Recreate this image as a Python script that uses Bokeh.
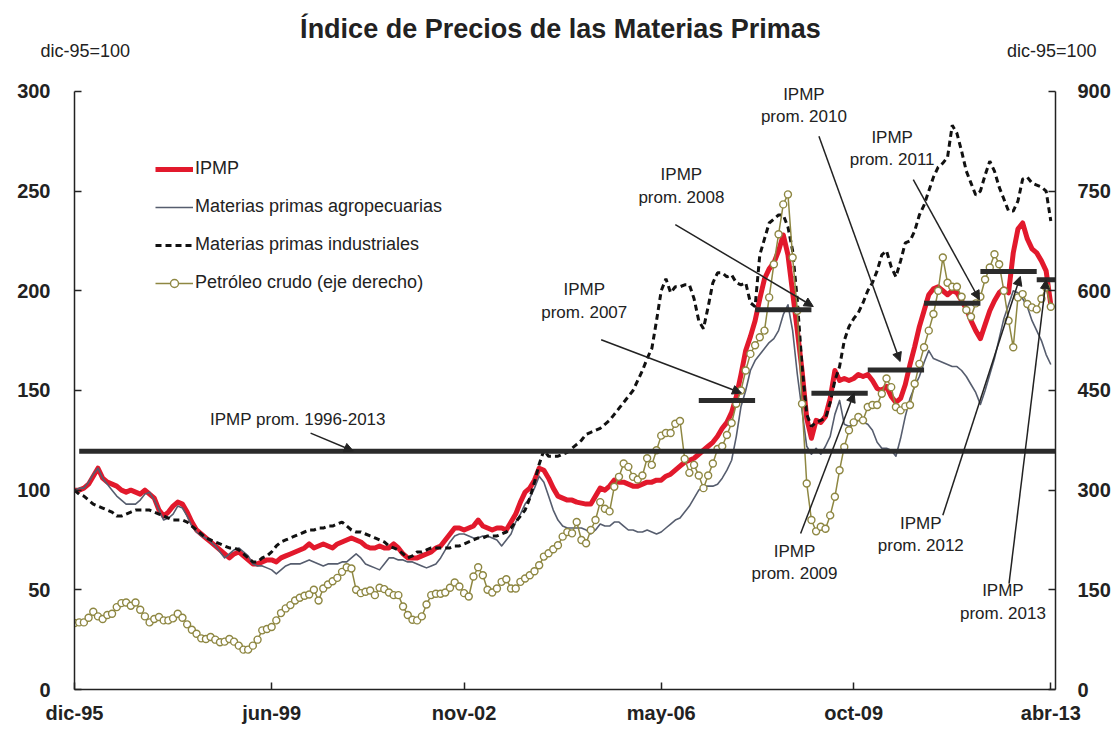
from bokeh.plotting import figure
from bokeh.layouts import column
from bokeh.models import (Range1d, LinearAxis, FixedTicker, Label, Arrow, NormalHead,
                          Legend, LegendItem, ColumnDataSource)
from bokeh.embed import file_html
from bokeh.resources import INLINE

# ---------------- data (monthly, dic-95 = 100) ----------------
# month index 0 = dic-95 ... 208 = abr-13
tick_months = [0, 42, 83, 125, 166, 208]
tick_labels = ["dic-95", "jun-99", "nov-02", "may-06", "oct-09", "abr-13"]

ipmp = [100,
        100, 101, 103, 107, 111, 106, 104, 103, 102, 100, 99, 100,
        99, 98, 100, 98, 96, 90, 87, 89, 92, 94, 93, 89,
        84, 80, 78, 76, 74, 72, 70, 68, 66, 68, 69, 67,
        65, 63, 63, 64, 65, 65, 64, 66, 67, 68, 69, 70,
        71, 73, 71, 72, 73, 72, 71, 73, 74, 75, 76, 75,
        74, 72, 71, 71, 72, 71, 71, 73, 71, 68, 66, 66,
        66, 67, 68, 69, 71, 72, 75, 78, 81, 81, 80, 81,
        82, 85, 82, 81, 80, 81, 81, 80, 84, 88, 94, 99,
        101, 105, 111, 110, 106, 101, 97, 96, 95, 95, 94, 93.5,
        93, 93, 97, 101, 100, 102, 105, 104, 104, 103, 102, 102,
        103, 104, 104, 105, 105, 107, 108, 110, 112, 114, 115, 116,
        118, 120, 122, 124, 127, 131, 134, 139, 147, 158, 170, 177,
        185, 196, 206, 211, 214, 220, 228, 218, 199, 180, 160, 136,
        126, 135, 134, 137, 146, 160, 155, 156, 155, 156, 158, 157,
        158, 155, 151, 150, 152, 147, 144, 146, 153, 163, 172, 182,
        190, 198, 201, 202, 200, 198, 200, 199, 195, 191, 185, 180,
        176, 183, 190, 195, 199, 201, 199, 219, 231, 234, 226, 221,
        219, 215, 210, 193]

agro = [100,
        101, 101, 104, 108, 111, 106, 103, 100, 97, 95, 93, 93,
        93, 95, 98, 99, 95, 90, 85, 86, 88, 92, 91, 87,
        82, 79, 77, 76, 74, 72, 69, 66, 68, 70, 71, 69,
        67, 63, 62, 62, 61, 60, 58, 60, 62, 63, 63, 63,
        64, 65, 64, 63, 62, 63, 63, 63, 64, 64, 66, 68,
        66, 63, 62, 61, 60, 63, 66, 66, 65, 65, 64, 64,
        63, 62, 61, 62, 63, 66, 70, 74, 77, 78, 78, 77,
        76, 76, 77, 77, 76, 75, 72, 75, 78, 84, 88, 93,
        96, 101, 107, 104, 97, 90, 85, 82, 81, 81, 81, 81,
        80, 78, 80, 83, 82, 82, 84, 84, 82, 80, 80, 79,
        79, 80, 79, 78, 79, 81, 83, 85, 86, 89, 92, 96,
        100, 102, 102, 102, 103, 106, 110, 115, 127, 142, 150, 160,
        165, 168, 171, 174, 176, 180, 188, 193, 180, 158, 140, 122,
        118, 121, 118, 122, 127, 138, 145, 133, 132, 133, 135, 134,
        133, 130, 124, 121, 121, 120, 117, 126, 137, 146, 152, 157,
        164, 170, 166, 165, 164, 163, 162, 162, 160, 157, 153, 149,
        143, 150, 158, 166, 176, 186, 193, 200, 199, 196, 192, 185,
        180, 175, 168, 163]

industrial = [100,
              98, 97, 95, 93, 92, 91, 90, 89, 87, 87, 88, 89,
              90, 90, 90, 90, 89, 88, 87, 86, 85, 85, 85, 84,
              82, 80, 78, 76, 75, 74, 73, 72, 71, 71, 70, 68,
              66, 64, 64, 66, 67, 69, 72, 74, 75, 76, 77, 78,
              79, 80, 80, 81, 81, 82, 82, 83, 84, 82, 80, 79,
              79, 78, 77, 76, 75, 74, 72, 71, 70, 68, 66, 67,
              69, 69, 70, 71, 71, 71, 71, 71, 72, 72, 73, 74,
              75, 76, 76, 77, 77, 77, 78, 79, 81, 84, 87, 90,
              96, 104, 113, 120, 117, 117, 117, 118, 119, 121, 123, 125,
              128, 129, 130, 131, 133, 135, 138, 141, 144, 147, 150, 155,
              160, 166, 171, 185, 200, 206, 199, 202, 202, 203, 203, 196,
              185, 181, 192, 204, 209, 209, 207, 208, 204, 203, 204, 194,
              192, 218, 226, 234, 236, 238, 238, 232, 220, 195, 162, 138,
              132, 134, 135, 136, 144, 155, 162, 175, 182, 186, 189, 194,
              200, 204, 210, 218, 220, 212, 207, 215, 224, 225, 230, 238,
              243, 250, 257, 262, 264, 267, 283, 279, 270, 260, 254, 248,
              250, 258, 265, 260, 252, 246, 240, 240, 245, 256, 257, 254,
              253, 252, 250, 235]

oil = [100,
       101, 101, 108, 117, 110, 106, 112, 114, 124, 130, 131, 126,
       131, 120, 110, 101, 106, 109, 104, 104, 107, 114, 108, 98,
       90, 84, 77, 76, 79, 75, 71, 72, 76, 72, 66, 60,
       60, 66, 75, 89, 91, 94, 104, 115, 122, 127, 134, 138,
       141, 143, 150, 134, 152, 158, 163, 168, 177, 184, 182, 150,
       145, 147, 149, 142, 153, 151, 146, 142, 142, 125, 112, 105,
       104, 110, 128, 142, 144, 144, 146, 153, 161, 155, 145, 140,
       170, 184, 172, 150, 146, 152, 162, 166, 152, 152, 162, 167,
       172, 178, 187, 200, 205, 211, 217, 230, 237, 235, 252, 225,
       220, 240, 255, 282, 272, 268, 305, 320, 340, 335, 320, 316,
       322, 348, 338, 360, 382, 386, 386, 400, 404, 347, 326, 338,
       322, 303, 322, 340, 362, 366, 383, 401, 430, 450, 480, 505,
       518, 530, 540, 590, 640, 685, 730, 745, 650, 570, 430, 310,
       255, 238, 245, 242, 262, 290, 330, 365, 390, 402, 410, 405,
       425, 428, 428, 445, 468, 455, 425, 420, 426, 428, 460, 490,
       515, 540, 565, 600, 650, 612, 606, 606, 591, 571, 561, 581,
       591, 617, 635, 655, 640, 600, 555, 515, 590, 595, 580, 575,
       572, 588, 605, 576]

# IPMP averages
avg_all = 119.5                       # promedio 1996-2013
avg_years = [2007, 2008, 2009, 2010, 2011, 2012, 2013]
avg_values = [145, 190.5, 148.6, 160.3, 193.8, 209.7, 205.5]

# ---------------- styling ----------------
FONT = "Liberation Sans"
INK = "#222222"
RED = "#e2192c"
GRAY = "#565d6e"
OLIVE = "#8e8742"
W = 1116

months = list(range(len(ipmp)))
X_END = 209
Y_TOP = 315.5          # a little head-room above 300 for the annotations

src = ColumnDataSource(dict(m=months, ipmp=ipmp, agro=agro, ind=industrial, oil=oil))

# ---- header (title + unit notes) ----
head = figure(width=W, height=60, output_backend="svg", toolbar_location=None,
              x_range=Range1d(0, W), y_range=Range1d(60, 0),
              x_axis_type=None, y_axis_type=None, min_border=0)
head.frame_align = False
head.outline_line_color = None
head.background_fill_color = "white"
head.border_fill_color = "white"

def hlab(x, y, t, size, align="center", style="normal"):
    head.add_layout(Label(x=x, y=y, text=t, text_align=align, text_baseline="middle",
                          text_font=FONT, text_font_size=size, text_font_style=style,
                          text_color=INK))

hlab(560, 28, "Índice de Precios de las Materias Primas", "27px", style="bold")
hlab(40, 50, "dic-95=100", "18px", align="left")
hlab(1096, 50, "dic-95=100", "18px", align="right")

# ---- main chart ----
p = figure(width=W, height=669, output_backend="svg", toolbar_location=None,
           x_range=Range1d(0, X_END), y_range=Range1d(0, Y_TOP),
           min_border_left=74, min_border_right=W - 1055, min_border_top=0, min_border_bottom=40)
p.frame_align = False
p.extra_y_ranges = {"oil": Range1d(0, Y_TOP * 3)}
p.outline_line_color = None
p.xgrid.visible = False
p.ygrid.visible = False
p.background_fill_color = "white"
p.border_fill_color = "white"

right = LinearAxis(y_range_name="oil", ticker=FixedTicker(ticks=[0, 150, 300, 450, 600, 750, 900]))
p.add_layout(right, "right")

p.xaxis.ticker = FixedTicker(ticks=tick_months)
p.xaxis.major_label_overrides = {m: l for m, l in zip(tick_months, tick_labels)}
p.yaxis[0].ticker = FixedTicker(ticks=[0, 50, 100, 150, 200, 250, 300])
p.yaxis[0].bounds = (0, 300)
right.bounds = (0, 900)

for ax in [p.xaxis[0], p.yaxis[0], right]:
    ax.axis_line_color = INK
    ax.axis_line_width = 1.5
    ax.major_tick_line_color = INK
    ax.major_tick_line_width = 1.5
    ax.major_tick_in = 7
    ax.major_tick_out = 0
    ax.minor_tick_line_color = None
    ax.major_label_text_font = FONT
    ax.major_label_text_font_style = "bold"
    ax.major_label_text_font_size = "20px"
    ax.major_label_text_color = INK
p.xaxis[0].major_label_standoff = 12
p.yaxis[0].major_label_standoff = 24
right.major_label_standoff = 22

# ---------------- series ----------------
r_ipmp = p.line("m", "ipmp", source=src, line_color=RED, line_width=5, line_join="round")
r_agro = p.line("m", "agro", source=src, line_color=GRAY, line_width=1.6, line_join="round")
r_ind = p.line("m", "ind", source=src, line_color="#111111", line_width=3, line_dash="6 4")
r_oil_l = p.line("m", "oil", source=src, y_range_name="oil", line_color=OLIVE, line_width=1.5)
r_oil_m = p.scatter("m", "oil", source=src, y_range_name="oil", marker="circle", size=7,
                    line_color=OLIVE, fill_color="white", line_width=1.4)

# averages
year_start = [(y - 1996) * 12 + 1 for y in avg_years]
year_end = [min(s + 12, X_END) for s in year_start]
p.segment(x0=[1], x1=[X_END], y0=[avg_all], y1=[avg_all], line_width=5, line_color="#2b2b2b")
p.segment(x0=year_start, x1=year_end, y0=avg_values, y1=avg_values, line_width=5,
          line_color="#2b2b2b", line_cap="butt")

# ---------------- legend ----------------
legend = Legend(items=[LegendItem(label="IPMP", renderers=[r_ipmp]),
                       LegendItem(label="Materias primas agropecuarias", renderers=[r_agro]),
                       LegendItem(label="Materias primas industriales", renderers=[r_ind]),
                       LegendItem(label="Petróleo crudo (eje derecho)", renderers=[r_oil_l, r_oil_m])],
                location=(81, 396), orientation="vertical", border_line_color=None,
                background_fill_alpha=0, padding=0, margin=0, spacing=17,
                glyph_width=38, glyph_height=20, label_height=20, label_standoff=2,
                label_text_font=FONT, label_text_font_size="18px", label_text_color=INK)
p.add_layout(legend)

# ---------------- notes ----------------
def lab(x, y, t, size="17px", align="center"):
    p.add_layout(Label(x=x, y=y, text=t, text_align=align, text_baseline="middle",
                       text_font=FONT, text_font_size=size, text_color=INK))

lab(47.6, 135.5, "IPMP prom. 1996-2013")
notes = [  # label x, IPMP y, prom y, arrow start (x, y), arrow end (x, y)
    (2007, 108.6, 200.5, 189.0, 112.2, 175.4, 142.1, 148.7),
    (2008, 129.3, 258.3, 246.6, 128.0, 233.2, 157.4, 192.1),
    (2009, 153.4, 69.0, 58.4, 154.7, 78.2, 166.1, 148.6),
    (2010, 155.4, 298.5, 287.6, 158.6, 277.5, 175.9, 164.5),
    (2011, 174.2, 276.7, 265.8, 178.7, 255.8, 192.8, 195.5),
    (2012, 180.3, 83.3, 72.4, 185.0, 87.4, 201.5, 207.2),
    (2013, 197.8, 49.7, 38.0, 199.1, 53.1, 207.0, 205.5),
]
for yr, lx, y1, y2, xs, ys, xe, ye in notes:
    lab(lx, y1, "IPMP")
    lab(lx, y2, "prom. %d" % yr)
    p.add_layout(Arrow(end=NormalHead(size=9, fill_color=INK, line_color=INK),
                       x_start=xs, y_start=ys, x_end=xe, y_end=ye,
                       line_width=1.5, line_color=INK))
p.add_layout(Arrow(end=NormalHead(size=9, fill_color=INK, line_color=INK),
                   x_start=50.3, y_start=128.6, x_end=59.4, y_end=119.6,
                   line_width=1.5, line_color=INK))

layout = column(head, p, spacing=0)
open("out.html", "w").write(file_html(layout, INLINE))
